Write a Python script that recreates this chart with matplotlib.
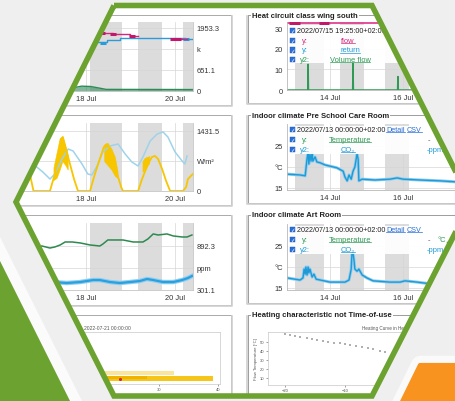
"""Dashboard collage inside a green hexagon frame."""

import matplotlib.pyplot as plt
from matplotlib.patches import Polygon, Rectangle, PathPatch
from matplotlib.path import Path
import numpy as np

W, H = 456, 402
plt.rcParams['font.family'] = ['Liberation Sans', 'DejaVu Sans']
nan = np.nan

# ---------------- left column (days in July) ----------------
left_bands = [(18.09, 18.81), (19.17, 19.71), (20.18, 20.45)]
left_ticks = [18, 20]
left_ticklabels = ['18 Jul', '20 Jul']

# heat meter panel (k)
flow_t = [18.36, 18.61, 18.99, 19.17, 19.17, 19.93, 20.27]
flow_v = [1800, 1755, 1694, 1694, nan, 1602, 1602]
flow_mark_t = [18.37, 18.61, 19.03, 19.96, 20.06]
flow_mark_v = [1800, 1755, 1694, 1602, 1602]
return_t = [18.25, 18.47, 18.76, 20.22, 20.40]
return_v = [1526, 1569, 1639, 1610, 1610]
return_mark_t = [18.38, 20.24]
return_mark_v = [1486, 1610]
power_t = [16.0, 17.6, 17.75, 17.9, 18.1, 18.3, 18.45, 20.4]
power_v = [40, 45, 110, 150, 140, 90, 50, 45]
heat_yticks = [0, 651.1, 1302.2, 1953.3]
heat_ylabels = ['0', '651.1', 'k', '1953.3']

# weather panel (W/m²)
sun_t = [16.0, 16.25, 16.35, 16.45, 16.55, 16.65, 16.75, 16.82,
         17.19, 17.30, 17.37, 17.44, 17.48, 17.55, 17.64, 17.73, 17.82,
         18.09, 18.20, 18.31, 18.40, 18.47, 18.54, 18.61, 18.70, 18.79, 18.83,
         19.17, 19.26, 19.33, 19.42, 19.48, 19.55, 19.62, 19.71, 19.80, 19.89,
         20.18, 20.25, 20.29, 20.40]
sun_v = [0, 0, 500, 950, 1150, 900, 350, 0,
         0, 406, 764, 1240, 1288, 1002, 644, 286, 0,
         0, 406, 764, 1050, 1121, 1002, 764, 406, 95, 0,
         0, 286, 477, 692, 811, 835, 764, 525, 239, 0,
         0, 95, 286, 406]
noise_t = [17.28, 17.35, 17.42, 17.48, 17.55, 17.60, 17.61,
           18.42, 18.50, 18.58, 18.66, 18.72, 18.73,
           19.28, 19.33, 19.38, 19.43]
noise_lo = [250, 300, 500, 700, 600, 500, nan, 700, 600, 500, 350, 300, nan,
            450, 520, 600, 650]
noise_hi = [550, 900, 1250, 1290, 1050, 850, nan, 1100, 1130, 1000, 800, 450, nan,
            700, 780, 800, 820]
temp_t = [16.0, 16.5, 16.7, 16.81, 17.03, 17.19, 17.30, 17.46, 17.60, 17.71, 17.91,
          18.04, 18.13, 18.25, 18.38, 18.54, 18.72, 18.88, 19.03, 19.17, 19.28,
          19.44, 19.60, 19.73, 19.84, 20.00, 20.16, 20.22, 20.27]
temp_v = [800, 1000, 800, 644, 453, 286, 406, 764, 1002, 954, 644,
          406, 382, 597, 931, 1074, 1121, 883, 692, 597, 811,
          1193, 1360, 1408, 1288, 931, 716, 644, 835]
sun_yticks = [0, 715.75, 1431.5]
sun_ylabels = ['0', 'W/m²', '1431.5']

# air quality panel (ppm)
co2_hi_t = [16.0, 16.5, 17.01, 17.19, 17.30, 17.42, 17.53, 17.69, 17.87, 18.09, 18.31,
            18.38, 18.49, 18.65, 18.83, 19.06, 19.28, 19.39, 19.51, 19.62, 19.82,
            19.96, 20.16, 20.27, 20.38]
co2_hi_v = [900, 880, 892, 865, 879, 906, 946, 946, 933, 906, 892,
            919, 973, 973, 973, 946, 946, 986, 1054, 1040, 1054,
            1027, 1013, 1013, 1040]
co2_lo_t = [16.0, 16.5, 17.01, 17.26, 17.57, 17.87, 18.16, 18.31, 18.54, 18.76, 18.99,
            19.21, 19.37, 19.51, 19.73, 19.96, 20.16, 20.29, 20.38]
co2_lo_v = [410, 420, 422, 408, 395, 408, 435, 435, 408, 395, 408,
            422, 449, 435, 408, 408, 435, 462, 489]
co2_yticks = [301.1, 596.7, 892.3]
co2_ylabels = ['301.1', 'ppm', '892.3']

# occupancy heat map panel
occ_left = [20.3, 20.3, 20.3]
occ_right = [32.5, 39.2, 28.0]
occ_y = [2.1, 1.1, 1.3]
occ_h = [0.8, 1.0, 0.5]
occ_colors = ['#fbe59a', '#f6c51a', '#f0b400']
occ_dot_x = [23.5]
occ_dot_y = [0.96]

# ---------------- right column ----------------
right_bands = [(13.04, 13.84), (14.27, 14.93), (15.51, 16.16)]
right_ticks = [14, 16]
right_ticklabels = ['14 Jul', '16 Jul']

pink_t = [12.82, 17.97]
pink_v = [32.3, 32.3]
pink_mark_t = [12.96, 13.10, 13.78, 13.89]
pink_mark_v = [32.3, 32.3, 32.5, 32.5]
vol_t = [12.82, 13.39, 13.40, 13.41, 14.62, 14.63, 14.64, 15.85, 15.86, 15.87, 17.97]
vol_v = [0, 0, 12.5, 0, 0, 13, 0, 0, 6.5, 0, 0]

pre_t = [12.82, 13.18, 13.32, 13.37, 13.40, 13.42, 13.45, 13.48, 13.51, 13.53, 13.59,
         13.64, 13.73, 13.86, 14.0, 14.19, 14.36, 14.41, 14.47, 14.52, 14.58, 14.63,
         14.68, 14.74, 14.77, 14.79, 14.88, 15.23, 15.64, 15.84, 16.0, 16.47, 17.01,
         17.56, 17.97]
pre_v = [18.3, 18.1, 17.9, 21.9, 23.6, 20.7, 23.1, 21.4, 23.6, 21.4, 22.4,
         21.2, 21.0, 20.5, 20.2, 19.8, 19.0, 17.6, 16.7, 18.1, 17.1, 19.0,
         20.0, 23.1, 21.9, 16.7, 17.1, 16.9, 17.1, 17.4, 17.1, 16.9, 16.7,
         16.4, 16.4]

art_t = [12.82, 13.18, 13.26, 13.29, 13.32, 13.34, 13.37, 13.40, 13.42, 13.45, 13.51,
         13.56, 13.62, 13.73, 14.0, 14.41, 14.52, 14.58, 14.60, 14.63, 14.66, 14.68,
         14.74, 14.79, 14.88, 15.01, 15.18, 15.64, 15.92, 16.05, 16.38, 16.74, 17.15,
         17.97]
art_v = [17.4, 16.9, 17.4, 19.5, 18.3, 20.0, 18.1, 20.0, 18.6, 19.5, 17.6,
         18.3, 17.1, 16.9, 16.4, 16.4, 16.9, 19.5, 23.1, 23.3, 21.4, 19.5,
         19.0, 19.5, 18.1, 17.4, 16.7, 16.4, 16.4, 16.7, 16.4, 16.0, 15.7,
         15.7]

curve_x = [-20, -19.2, -18.3, -17.5, -16.4, -15.5, -14.7, -13.6, -12.8, -11.9,
           -10.8, -10.0, -9.2, -8.1, -7.2, -6.1, -5.3, -4.2, -3.3]
curve_y = [58.9, 57.8, 56.3, 55.2, 54.1, 53.0, 51.9, 51.1, 50.0, 49.3,
           48.5, 47.4, 46.3, 45.2, 44.1, 43.0, 41.9, 40.4, 39.3]

right_titles = ['Heat circuit class wing south', 'Indoor climate Pre School Care Room',
                'Indoor climate Art Room', 'Heating characteristic not Time-of-use']

MAGENTA = '#d6267b'
BLUE = '#1e9ad6'
GREEN = '#2e9a55'
LINK = '#2a6fd6'
BORDER = '#6ca22f'

fig = plt.figure(figsize=(W / 100, H / 100), dpi=100)
fig.patch.set_facecolor('#efefef')


def px_axes(x0, y0, x1, y1, z):
    ax = fig.add_axes([x0 / W, 1 - y1 / H, (x1 - x0) / W, (y1 - y0) / H])
    ax.set_zorder(z)
    return ax


def px_canvas(z):
    ax = px_axes(0, 0, W, H, z)
    ax.set_xlim(0, W)
    ax.set_ylim(H, 0)
    ax.axis('off')
    return ax


def style_common(ax):
    ax.set_facecolor('none')
    ax.tick_params(length=0, labelsize=5.4, colors='#333333', pad=2.8)
    ax.grid(color='#d6d6d6', lw=0.5)
    ax.set_axisbelow(True)
    for side in ('top', 'left', 'right', 'bottom'):
        ax.spines[side].set_visible(False)


def style_left(ax, ylim, yticks, ylabels):
    style_common(ax)
    ax.set_xlim(16.0, 20.404)
    ax.set_ylim(ylim)
    ax.yaxis.tick_right()
    ax.set_yticks(yticks, ylabels)
    ax.set_xticks(left_ticks, left_ticklabels)
    for side in ('bottom', 'right'):
        ax.spines[side].set_visible(True)
        ax.spines[side].set_color('#c4c4c4')
        ax.spines[side].set_linewidth(0.6)
    for a, b in left_bands:
        ax.axvspan(a, b, color='#dcdcdc', lw=0, zorder=0)


def style_right(ax, ylim, yticks, ylabels):
    style_common(ax)
    ax.set_xlim(12.822, 17.97)
    ax.set_ylim(ylim)
    ax.set_yticks(yticks, ylabels)
    ax.set_xticks(right_ticks, right_ticklabels)
    for side in ('bottom', 'left'):
        ax.spines[side].set_visible(True)
        ax.spines[side].set_color('#b8b8b8')
        ax.spines[side].set_linewidth(0.6)
    for a, b in right_bands:
        ax.axvspan(a, b, color='#dcdcdc', lw=0, zorder=0)


# ---------------- background canvas: hexagon + panel frames ----------------
cv = px_canvas(0)
hex_pts = [(114, 6.5), (16, 203), (114, 397), (372, 397), (471, 203), (372, 6.5)]
cv.add_patch(Polygon(hex_pts, closed=True, fc='white', ec='none'))

for r in range(4):
    top = 16 + 100 * r
    bot = 106 + 100 * r
    cv.plot([-10, 232.2, 232.2], [bot + 1.2, bot + 1.2, top + 1], color='#d0d0d0', lw=1.2)
    cv.add_patch(Rectangle((-10, top), 241, bot - top, fill=False, ec='#aaaaaa', lw=0.7))
    rbot = 104 + 100 * r
    cv.plot([246.8, 246.8, 480], [top + 1, rbot + 1.2, rbot + 1.2], color='#d0d0d0', lw=1.2)
    cv.add_patch(Rectangle((248, top), 240, rbot - top, fill=False, ec='#9c9c9c', lw=0.7))
    cv.text(252, top, right_titles[r], fontsize=5.5, fontweight='bold', color='#222222',
            va='center', ha='left',
            bbox=dict(boxstyle='square,pad=0.15', fc='white', ec='none'))

cv.text(131, 329, '2022-07-21 00:00:00', fontsize=3.6, color='#555555', ha='right', va='center')
cv.text(362, 329, 'Heating Curve in Heating Circuit', fontsize=3.3, color='#555555',
        ha='left', va='center')
cv.text(256, 359, 'Flow Temperature [°C]', fontsize=3.1, color='#555555', rotation=90,
        ha='center', va='center')

# ---------------- left column charts ----------------
ax = px_axes(-3, 23, 193, 92, 2)
style_left(ax, (0, 2139), heat_yticks, heat_ylabels)
ax.fill_between(power_t, 0, power_v, color='#2e8b57', alpha=0.6, lw=0)
ax.plot(power_t, power_v, color='#2e8b57', lw=1)
ax.plot(return_t, return_v, color='#2b9ad8', lw=1, drawstyle='steps-post')
ax.plot(return_mark_t, return_mark_v, ls='none', marker='_', ms=4.5, mew=2.2, color='#2b9ad8')
ax.plot(flow_t, flow_v, color=MAGENTA, lw=1, drawstyle='steps-post')
ax.plot(flow_mark_t, flow_mark_v, ls='none', marker='_', ms=4.5, mew=2.2, color='#c2186b')

ax = px_axes(-3, 124, 193, 192, 2)
style_left(ax, (0, 1622), sun_yticks, sun_ylabels)
ax.plot(temp_t, temp_v, color='#9fd3ea', lw=1.1)
ax.fill_between(noise_t, noise_lo, noise_hi, color='#f7c600', lw=0.4, ec='#f7c600')
ax.plot(sun_t, sun_v, color='#f7c600', lw=1.3)

ax = px_axes(-3, 224, 193, 291, 2)
style_left(ax, (301.1, 1201), co2_yticks, co2_ylabels)
ax.plot(co2_hi_t, co2_hi_v, color='#2d8a4e', lw=1.1)
ax.plot(co2_lo_t, co2_lo_v, color='#8fcdef', lw=3.2)
ax.plot(co2_lo_t, co2_lo_v, color='#2aa0df', lw=1.6)

ax = px_axes(40, 333, 220, 385, 2)
ax.set_xlim(10.3, 40.33)
ax.set_ylim(0, 10)
ax.barh(occ_y, np.subtract(occ_right, occ_left), left=occ_left, height=occ_h,
        color=occ_colors, lw=0)
ax.scatter(occ_dot_x, occ_dot_y, s=5, color='#d62728', zorder=3, lw=0)
ax.set_xticks([10, 20, 30, 40])
ax.set_yticks([])
ax.tick_params(labelsize=3, length=1.5, width=0.4, pad=1, colors='#555555')
for s in ax.spines.values():
    s.set_color('#c8c8c8')
    s.set_linewidth(0.5)

# ---------------- right column charts ----------------
ax = px_axes(287, 23, 475, 91, 2)
style_right(ax, (0, 33), [0, 10, 20, 30], ['0', '10', '20', '30'])
ax.plot(vol_t, vol_v, color=GREEN, lw=1.1)
ax.plot(pink_t, pink_v, color='#e0338a', lw=1.2)
ax.plot(pink_mark_t, pink_mark_v, ls='none', marker='_', ms=4.5, mew=2.2, color='#c2186b')

ax = px_axes(287, 125, 475, 191, 2)
style_right(ax, (14.52, 30.24), [15, 20, 25], ['15', '°C', '25'])
ax.plot(pre_t, pre_v, color='#8fcdef', lw=2.2)
ax.plot(pre_t, pre_v, color=BLUE, lw=1.0)

ax = px_axes(287, 225, 475, 291, 2)
style_right(ax, (14.52, 30.24), [15, 20, 25], ['15', '°C', '25'])
ax.plot(art_t, art_v, color='#8fcdef', lw=2.2)
ax.plot(art_t, art_v, color=BLUE, lw=1.0)

ax = px_axes(268, 333, 475, 386, 2)
ax.set_xlim(-22.83, 11.67)
ax.set_ylim(2.2, 61.1)
ax.plot(curve_x, curve_y, ls='none', marker='s', ms=1.6, color='#b0b0b0', mew=0)
ax.set_xticks([-20, -10, 0])
ax.set_yticks([10, 20, 30, 40, 50])
ax.tick_params(labelsize=3, length=1.5, width=0.4, pad=1, colors='#555555')
for s in ax.spines.values():
    s.set_color('#c8c8c8')
    s.set_linewidth(0.5)

# ---------------- legends of the right column ----------------
underlined = []
links = []


def legend_box(x0, y0, x1, y1):
    lg = px_axes(x0, y0, x1, y1, 3)
    lg.set_xlim(x0, x1)
    lg.set_ylim(y1, y0)
    lg.axis('off')
    lg.add_patch(Rectangle((x0, y0), x1 - x0, y1 - y0, fc='white', ec='none', alpha=0.94))
    return lg


def checkbox(lg, yc):
    lg.add_patch(Rectangle((289.8, yc - 2.7), 5.4, 5.4, fc='#2b6fd8', ec='#1d5bb8', lw=0.3))
    lg.text(292.5, yc + 0.2, '✓', fontsize=4, color='white', ha='center', va='center',
            family='DejaVu Sans', fontweight='bold')


def put(lg, x, y, s, color, ha='left', line=False, size=5.4):
    t = lg.text(x, y, s, fontsize=size, color=color, ha=ha, va='center')
    if line:
        underlined.append((lg, t))
    return t


lg = legend_box(288, 26, 470, 64)
for yc in (31.5, 41.5, 51, 60.5):
    checkbox(lg, yc)
put(lg, 297, 31.5, '2022/07/15 19:25:00+02:00', '#222222', size=5.2)
put(lg, 302, 41.5, 'y:', MAGENTA)
put(lg, 348, 41.5, 'flow', MAGENTA, 'center', True)
put(lg, 302, 51, 'y:', BLUE)
put(lg, 350, 51, 'return', BLUE, 'center', True)
put(lg, 300, 60.5, 'y2:', GREEN)
put(lg, 350, 60.5, 'Volume flow', GREEN, 'center', True)

for off in (0, 100):
    lg = legend_box(288, 127 + off, 470, 155 + off)
    for yc in (130.5 + off, 140.5 + off, 150.5 + off):
        checkbox(lg, yc)
    date = put(lg, 297, 130.5 + off, '2022/07/13 00:00:00+02:00', '#222222', size=5.2)
    detail = put(lg, 386, 130.5 + off, 'Detail', LINK, line=True, size=5.2)
    csv = put(lg, 407, 130.5 + off, 'CSV', LINK, line=True, size=5.2)
    links.append((lg, date, detail, csv))
    put(lg, 302, 140.5 + off, 'y:', GREEN)
    put(lg, 350, 140.5 + off, 'Temperature', GREEN, 'center', True)
    put(lg, 428, 140.5 + off, '-', '#555555')
    put(lg, 438, 140.5 + off, '°C', GREEN)
    lg.plot([447, 470], [142.5 + off, 142.5 + off], color=GREEN, lw=1)
    put(lg, 300, 150.5 + off, 'y2:', BLUE)
    put(lg, 348, 150.5 + off, 'CO₂', BLUE, 'center', True)
    put(lg, 427, 150.5 + off, '-ppm', BLUE)

# put the link texts right after the date, the way the page flows them
fig.canvas.draw()
renderer = fig.canvas.get_renderer()
for lg, date, detail, csv in links:
    inv = lg.transData.inverted()
    x_end = inv.transform([[date.get_window_extent(renderer).x1, 0]])[0][0]
    detail.set_x(x_end + 0.8)
    fig.canvas.draw()
    x_end = inv.transform([[detail.get_window_extent(renderer).x1, 0]])[0][0]
    csv.set_x(x_end + 2.0)

fig.canvas.draw()
for lg, t in underlined:
    bb = t.get_window_extent(renderer)
    (xa, ya), (xb, yb) = lg.transData.inverted().transform([[bb.x0, bb.y0 + 0.6], [bb.x1, bb.y0 + 0.6]])
    lg.plot([xa, xb], [ya, yb], color=t.get_color(), lw=0.5)

# ---------------- overlay: mask outside hexagon, frame and decoration ----------------
ov = px_canvas(10)
rect = [(-5, -5), (461, -5), (461, 407), (-5, 407), (-5, -5)]
verts = rect + hex_pts + [hex_pts[0]]
codes = ([Path.MOVETO] + [Path.LINETO] * 3 + [Path.CLOSEPOLY]
         + [Path.MOVETO] + [Path.LINETO] * 5 + [Path.CLOSEPOLY])
ov.add_patch(PathPatch(Path(verts, codes), fc='#efefef', ec='none'))

ov.add_patch(Polygon([(0, 238), (87, 412), (75, 412), (0, 262)], closed=True,
                     fc='#fbfbfb', ec='none'))
ov.add_patch(Polygon([(-5, 262), (0, 262), (75, 412), (-5, 412)], closed=True,
                     fc=BORDER, ec='none'))

orange_pts = [(420, 366), (470, 366), (470, 415), (396, 415)]
ov.add_patch(Polygon(orange_pts, closed=True, fc='#fafafa', ec='#fafafa', lw=14,
                     joinstyle='round'))
ov.add_patch(Polygon(orange_pts, closed=True, fc='#f7931e', ec='#f7931e', lw=3,
                     joinstyle='round'))

ov.add_patch(Polygon(hex_pts, closed=True, fill=False, ec=BORDER, lw=4.0, joinstyle='miter'))

fig.savefig('out.png', dpi=100)
